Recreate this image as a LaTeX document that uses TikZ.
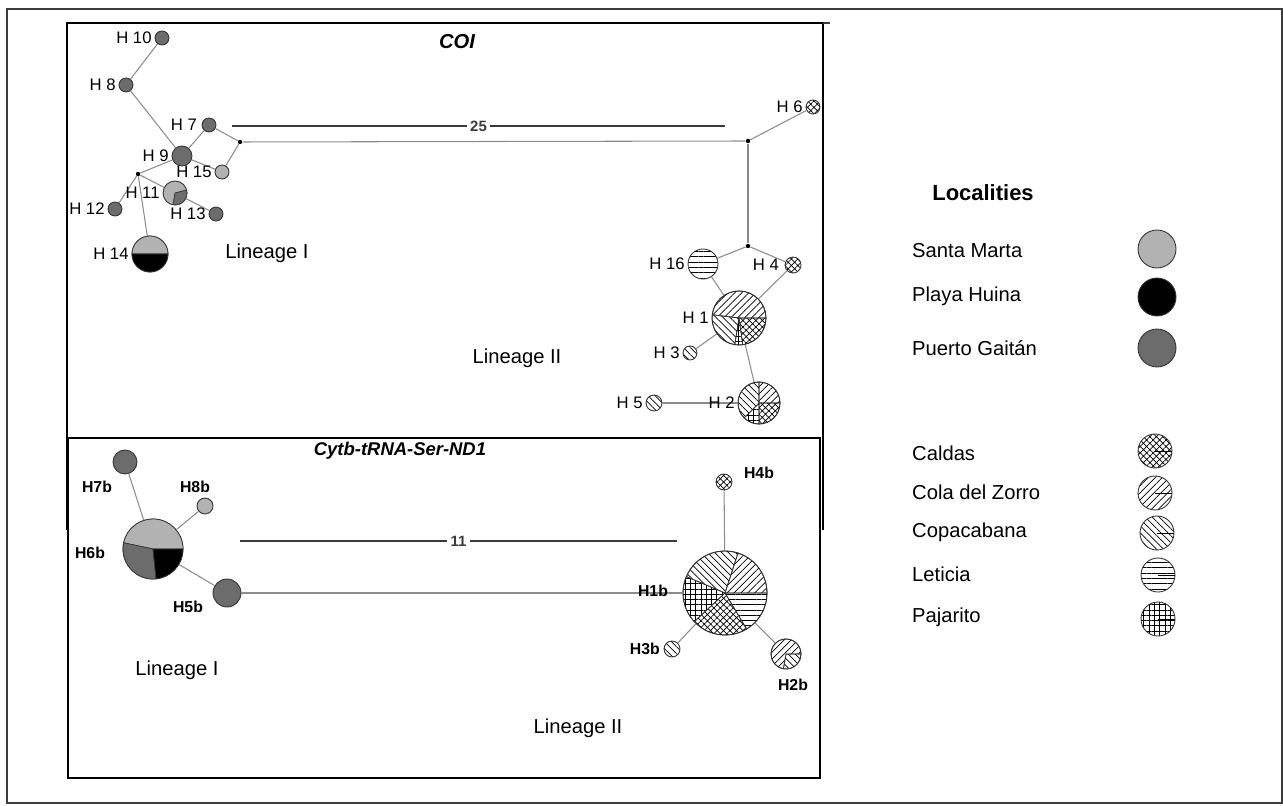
\documentclass[tikz,border=0pt]{standalone}
\usepackage{fontspec}
\setmainfont{Liberation Sans}
\usetikzlibrary{positioning,patterns.meta}
\definecolor{lgray}{RGB}{178,178,178}
\definecolor{dgray}{RGB}{108,108,108}
\definecolor{lnk}{RGB}{140,140,140}
\definecolor{frm}{RGB}{60,60,60}
\tikzset{
  hap/.style={
    shape = circle,
    draw = black!80,
    line width = 0.5pt,
    inner sep = 0pt,
    minimum size = 0.04cm*#1
  },
  vtx/.style={
    shape = circle,
    fill,
    inner sep = 0pt,
    minimum size = 2.5pt
  },
  link/.style={draw=lnk, line width=0.6pt},
  hlab/.style={font=\fontsize{9.5}{11}\selectfont, inner sep=1pt},
  blab/.style={font=\bfseries\fontsize{9}{10}\selectfont, inner sep=1pt},
  big/.style={font=\fontsize{11.5}{13}\selectfont},
  ttl/.style={font=\bfseries\itshape\fontsize{10.5}{12}\selectfont},
  num/.style={font=\bfseries\fontsize{8.5}{9}\selectfont, fill=white, inner sep=2pt},
  smarta/.style={fill=lgray},
  phuina/.style={fill=black},
  pgaitan/.style={fill=dgray},
  caldas/.style={pattern={Hatch[angle=45,distance=2.6pt,line width=0.4pt]}},
  zorro/.style={pattern={Lines[angle=45,distance=2.8pt,line width=0.4pt]}},
  copa/.style={pattern={Lines[angle=-45,distance=2.8pt,line width=0.4pt]}},
  leticia/.style={pattern={Lines[angle=0,distance=3pt,line width=0.4pt]}},
  pajarito/.style={pattern={Hatch[angle=0,distance=3pt,line width=0.4pt]}}
}
% one sector of a pie: node, radius, start, end, locality
\newcommand{\hslice}[5]{\path[#5, draw=black!80, line width=0.4pt] (#1.center) -- ++(#3:#2) arc[start angle=#3, end angle=#4, radius=#2] -- cycle;}

\begin{document}
\begin{tikzpicture}[x=0.02cm, y=0.02cm]
    \useasboundingbox (0,0) rectangle (1283,805);

    % frames
    \draw[frm, line width=0.8pt] (7,2) rectangle (1282,796);
    \draw[line width=1.6pt] (67,275) -- (67,782) -- (823,782) -- (823,275);
    \draw[frm, line width=0.6pt] (823,782) -- (830,782);
    \draw[line width=1.3pt] (68,27) rectangle (820,367);

    % COI
    \node[ttl, font=\bfseries\itshape\fontsize{11.5}{13}\selectfont] (tCOI) at (457,763) {COI};

    \node[hap=7, pgaitan] (H10) at (162,767) {};
    \node[hap=7, pgaitan] (H8) at (126,720) {};
    \node[hap=7, pgaitan] (H7) at (209,680) {};
    \node[hap=10, pgaitan] (H9) at (182,649) {};
    \node[hap=7, smarta] (H15) at (222,633) {};
    \node[hap=12, smarta] (H11) at (175,612) {};
    \node[hap=7, pgaitan] (H12) at (115,596) {};
    \node[hap=7, pgaitan] (H13) at (216,591) {};
    \node[hap=18] (H14) at (150,551) {};
    \node[vtx] (v1) at (138,631) {};
    \node[vtx] (v2) at (240,663) {};
    \node[vtx] (v3) at (748,664) {};
    \node[vtx] (v4) at (748,559) {};
    \node[hap=7, caldas] (H6) at (813,698) {};
    \node[hap=15, leticia] (H16) at (703,541) {};
    \node[hap=8, caldas] (H4) at (793,540) {};
    \node[hap=27] (H1) at (739,487) {};
    \node[hap=7, copa] (H3) at (690,452) {};
    \node[hap=21] (H2) at (759,402) {};
    \node[hap=8, copa] (H5) at (654,402) {};

    \hslice{H11}{12}{-100}{15}{pgaitan}
    \hslice{H14}{18}{0}{180}{smarta}
    \hslice{H14}{18}{180}{360}{phuina}
    \hslice{H1}{27}{0}{173}{zorro}
    \hslice{H1}{27}{173}{261}{copa}
    \hslice{H1}{27}{261}{278}{pajarito}
    \hslice{H1}{27}{278}{360}{caldas}
    \hslice{H2}{21}{0}{90}{zorro}
    \hslice{H2}{21}{90}{225}{copa}
    \hslice{H2}{21}{225}{270}{pajarito}
    \hslice{H2}{21}{270}{360}{caldas}

    \draw[link] (H10) -- (H8);
    \draw[link] (H8) -- (H9);
    \draw[link] (H9) -- (H7);
    \draw[link] (H7) -- (v2);
    \draw[link] (v2) -- (H15);
    \draw[link] (H15) -- (H9);
    \draw[link] (H9) -- (v1);
    \draw[link] (v1) -- (H12);
    \draw[link] (v1) -- (H14);
    \draw[link] (v1) -- (H11);
    \draw[link] (H11) -- (H13);
    \draw[link] (v2) -- (v3);
    \draw[link] (v3) -- (H6);
    \draw[link] (v3) -- (v4);
    \draw[link] (v4) -- (H16);
    \draw[link] (v4) -- (H4);
    \draw[link] (H16) -- (H1);
    \draw[link] (H4) -- (H1);
    \draw[link] (H1) -- (H3);
    \draw[link] (H1) -- (H2);
    \draw[link] (H5) -- (H2);

    \node[hlab, left=0.5pt of H10] (l10) {H 10};
    \node[hlab, left=0.5pt of H8] (l8) {H 8};
    \node[hlab, left=1.5pt of H7] (l7) {H 7};
    \node[hlab, left=0.5pt of H9] (l9) {H 9};
    \node[hlab, left=0.5pt of H15] (l15) {H 15};
    \node[hlab, left=0.5pt of H11] (l11) {H 11};
    \node[hlab, left=0.5pt of H12] (l12) {H 12};
    \node[hlab, left=0.5pt of H13] (l13) {H 13};
    \node[hlab, left=0.5pt of H14] (l14) {H 14};
    \node[hlab, left=0.5pt of H6] (l6) {H 6};
    \node[hlab, left=0.5pt of H16] (l16) {H 16};
    \node[hlab, left=2pt of H4] (l4) {H 4};
    \node[hlab, left=0.5pt of H1] (l1) {H 1};
    \node[hlab, left=0.5pt of H3] (l3) {H 3};
    \node[hlab, left=0.5pt of H2] (l2) {H 2};
    \node[hlab, left=0.5pt of H5] (l5) {H 5};

    \coordinate (s25a) at (232,679);
    \coordinate (s25b) at (725,679);
    \draw[frm, line width=0.6pt] (s25a) -- node[num] (n25) {25} (s25b);

    \node[big] (lin1) at (267,552) {Lineage I};
    \node[big] (lin2) at (517,447) {Lineage II};

    % Cytb-tRNA-Ser-ND1
    \node[ttl] (tCyt) at (400,354) {Cytb-tRNA-Ser-ND1};

    \node[hap=12, pgaitan] (H7b) at (125,343) {};
    \node[hap=8, smarta] (H8b) at (205,299) {};
    \node[hap=30] (H6b) at (153,256) {};
    \node[hap=14, pgaitan] (H5b) at (227,212) {};
    \node[hap=42] (H1b) at (725,212) {};
    \node[hap=8, caldas] (H4b) at (724,323) {};
    \node[hap=8, copa] (H3b) at (672,156) {};
    \node[hap=15] (H2b) at (786,151) {};

    \hslice{H6b}{30}{0}{168}{smarta}
    \hslice{H6b}{30}{168}{276}{pgaitan}
    \hslice{H6b}{30}{276}{360}{phuina}
    \hslice{H1b}{42}{0}{72}{zorro}
    \hslice{H1b}{42}{72}{157}{copa}
    \hslice{H1b}{42}{157}{223}{pajarito}
    \hslice{H1b}{42}{223}{301}{caldas}
    \hslice{H1b}{42}{301}{360}{leticia}
    \hslice{H2b}{15}{0}{260}{zorro}
    \hslice{H2b}{15}{260}{360}{copa}

    \draw[link] (H7b) -- (H6b);
    \draw[link] (H8b) -- (H6b);
    \draw[link] (H6b) -- (H5b);
    \draw[link] (H5b) -- (H1b);
    \draw[link] (H4b) -- (H1b);
    \draw[link] (H3b) -- (H1b);
    \draw[link] (H2b) -- (H1b);

    \node[blab] (l7b) at (97,318) {H7b};
    \node[blab] (l8b) at (195,318) {H8b};
    \node[blab] (l6b) at (90,252) {H6b};
    \node[blab] (l5b) at (188,198) {H5b};
    \node[blab] (l1b) at (653,214) {H1b};
    \node[blab] (l4b) at (759,332) {H4b};
    \node[blab, left=1pt of H3b] (l3b) {H3b};
    \node[blab] (l2b) at (793,120) {H2b};

    \coordinate (s11a) at (240,264);
    \coordinate (s11b) at (677,264);
    \draw[frm, line width=0.6pt] (s11a) -- node[num] (n11) {11} (s11b);

    \node[big] (lin1b) at (177,135) {Lineage I};
    \node[big] (lin2b) at (578,77) {Lineage II};

    % legend
    \node[big, font=\bfseries\fontsize{12.5}{14}\selectfont] (loc) at (983,612) {Localities};
    \node[big, anchor=west] (tSM) at (906,554) {Santa Marta};
    \node[big, anchor=west] (tPH) at (906,509) {Playa Huina};
    \node[big, anchor=west] (tPG) at (906,457) {Puerto Gaitán};
    \node[big, anchor=west] (tCa) at (906,352) {Caldas};
    \node[big, anchor=west] (tCZ) at (906,313) {Cola del Zorro};
    \node[big, anchor=west] (tCo) at (906,273) {Copacabana};
    \node[big, anchor=west] (tLe) at (906,231) {Leticia};
    \node[big, anchor=west] (tPa) at (906,188) {Pajarito};

    \node[hap=19, smarta] (kSM) at (1157,556) {};
    \node[hap=19, phuina] (kPH) at (1157,508) {};
    \node[hap=19, pgaitan] (kPG) at (1157,457) {};
    \node[hap=17, caldas] (kCa) at (1155,354) {};
    \node[hap=17, zorro] (kCZ) at (1155,312) {};
    \node[hap=17, copa] (kCo) at (1157,272) {};
    \node[hap=17, leticia] (kLe) at (1158,230) {};
    \node[hap=17, pajarito] (kPa) at (1158,186) {};
    \draw[line width=0.4pt] (kCa.center) -- (kCa.east);
    \draw[line width=0.4pt] (kCZ.center) -- (kCZ.east);
    \draw[line width=0.4pt] (kCo.center) -- (kCo.east);
    \draw[line width=0.4pt] (kLe.center) -- (kLe.east);
    \draw[line width=0.4pt] (kPa.center) -- (kPa.east);
\end{tikzpicture}
\end{document}
